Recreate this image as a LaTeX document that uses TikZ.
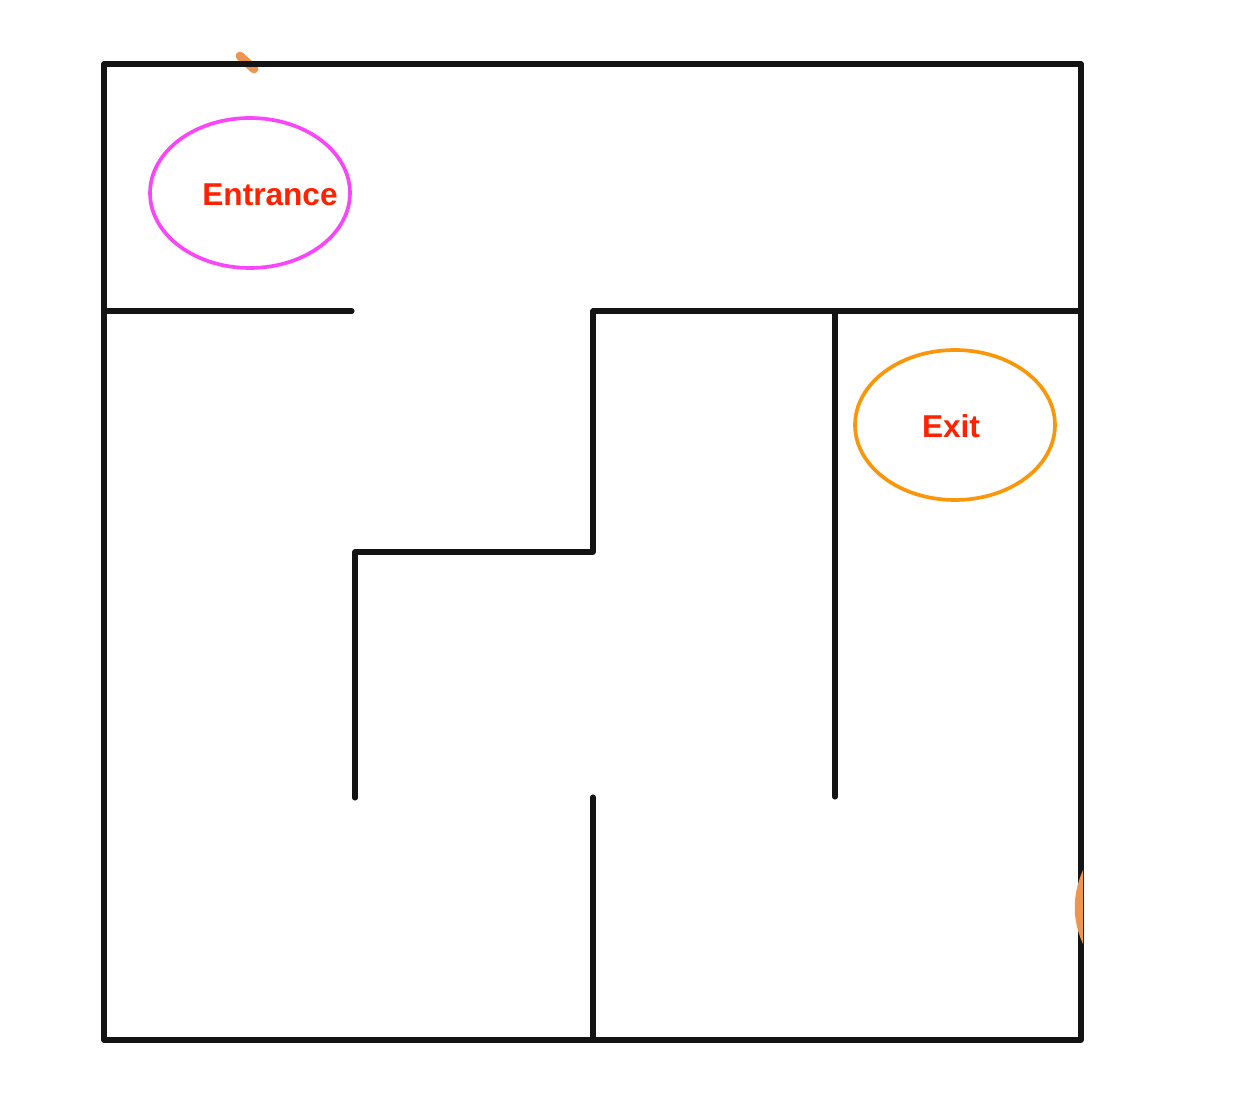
\documentclass[tikz,border=0pt]{standalone}
\usepackage{fontspec}
\setsansfont{Liberation Sans}
\usetikzlibrary{shapes.geometric}
\definecolor{wallc}{RGB}{20,20,20}
\definecolor{pinkc}{RGB}{250,70,250}
\definecolor{orgc}{RGB}{250,150,10}
\definecolor{markc}{RGB}{238,150,80}
\definecolor{txtc}{RGB}{255,34,0}
\begin{document}
\begin{tikzpicture}[x=0.02cm,y=-0.02cm,line join=round,line cap=round,
	wall/.style={wallc,line width=2.9pt},
	ring/.style={ellipse,line width=2.1pt,minimum width=4cm,minimum height=3cm,inner sep=0pt},
	lbl/.style={txtc,font=\sffamily\bfseries\fontsize{18}{20}\selectfont}]
	\useasboundingbox (0,0) rectangle (1242,1094);
	% orange mark at the top
	\draw[markc,line width=5pt] (240,56)--(254,69);
	% walls
	\draw[wall] (104,64) rectangle (1081,1040);
	\draw[wall] (104,311)--(352,311);
	\draw[wall] (593,311)--(1081,311);
	\draw[wall] (593,311)--(593,552)--(355,552)--(355,798);
	\draw[wall] (835,311)--(835,797);
	\draw[wall] (593,797)--(593,1040);
	% orange mark on the right wall
	\fill[markc] (1083,870) .. controls (1072,895) and (1072,920) .. (1083,944)--cycle;
	% labels
	\node[ring,draw=pinkc] (entr) at (250,193) {};
	\node[lbl] at (270,195) {Entrance};
	\node[ring,draw=orgc] (exit) at (955,425) {};
	\node[lbl] at (951,426) {Exit};
\end{tikzpicture}
\end{document}
